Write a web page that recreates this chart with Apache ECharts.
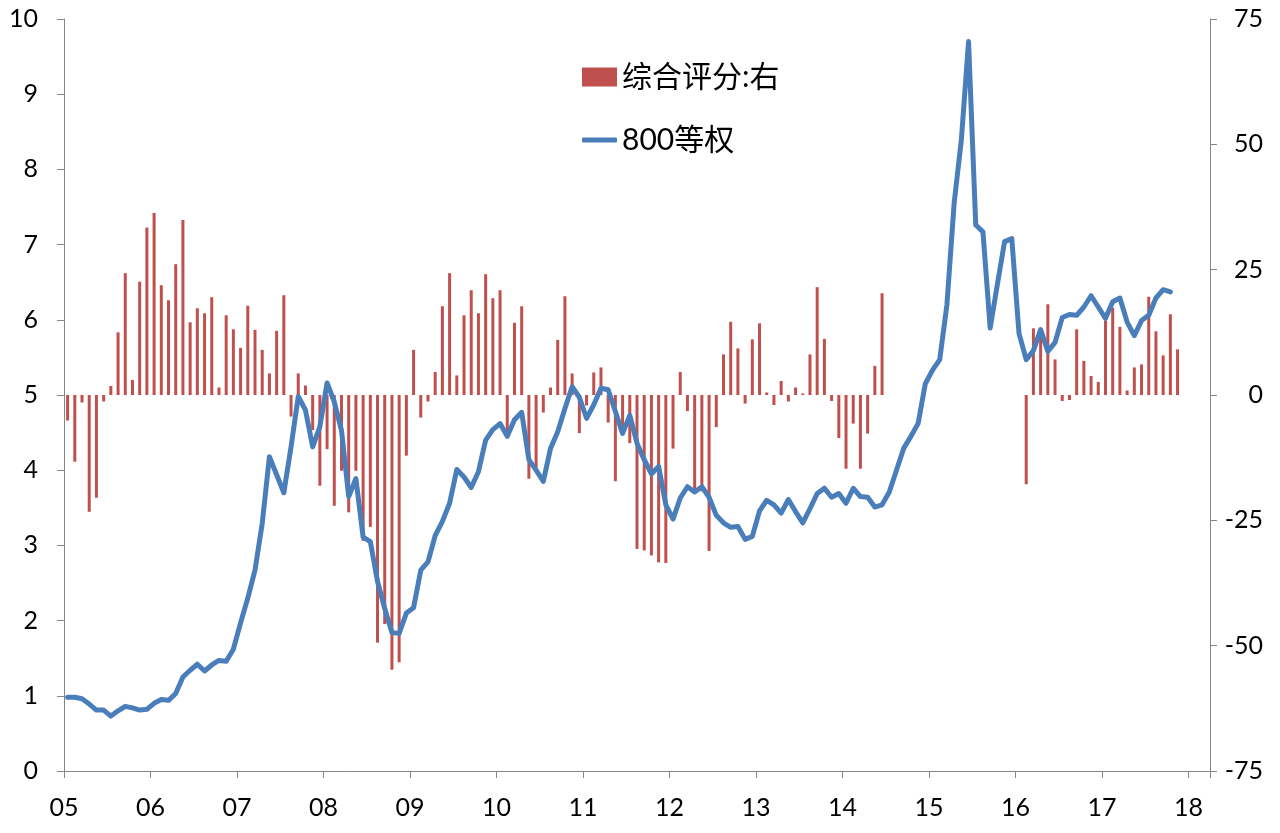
<!DOCTYPE html>
<html>
<head>
<meta charset="utf-8">
<script src="https://cdn.jsdelivr.net/npm/echarts@6/dist/echarts.min.js"></script>
<style>
html,body{margin:0;padding:0;background:#fff;}
#chart{width:1280px;height:833px;}
</style>
</head>
<body>
<div id="chart"></div>
<script>
// Year tick labels (one every 12 months, starting Jan 2005)
const yearLabels = ['05','06','07','08','09','10','11','12','13','14','15','16','17','18'];
const seriesNames = ['综合评分:右', '800等权'];

// 综合评分 (right axis), monthly from 2005-01; null = no value
const scoreRight = [
  -5.1, -13.3, -1.5, -23.3, -20.5, -1.3, 1.8, 12.5, 24.3, 3, 22.6, 33.4,
  36.3, 21.9, 18.9, 26.1, 34.9, 14.5, 17.3, 16.3, 19.5, 1.5, 15.9, 13.1,
  9.4, 17.8, 13, 9, 4.3, 12.8, 19.9, -4.3, 4.3, 1.9, -7, -18.1,
  -10.8, -22.1, -15.1, -23.4, -15.1, -29.1, -26.3, -49.4, -45.7, -54.8, -53.3, -12.1,
  9, -4.5, -1.3, 4.6, 17.7, 24.3, 3.9, 15.9, 20.9, 16.3, 24.1, 19.3,
  20.9, -8.2, 14.4, 17.7, -16.7, -15, -3.5, 1.5, 11, 19.7, 4.3, -7.6,
  -2.1, 4.5, 5.5, -5.5, -17.2, -8, -9.6, -30.7, -31, -32, -33.4, -33.5,
  -10.7, 4.6, -3.2, -19.7, -19.2, -31.1, -6.4, 8.1, 14.6, 9.3, -1.7, 11.1,
  14.3, 0.5, -2, 2.8, -1.3, 1.5, 0.3, 8.1, 21.5, 11.2, -1.2, -8.6,
  -14.7, -5.7, -14.7, -7.7, 5.8, 20.3, null, null, null, null, null, null,
  null, null, null, null, null, null, null, null, null, null, null, null,
  null, -17.8, 13.3, 12, 18.1, 7.1, -1.2, -1, 13.1, 6.8, 3.8, 2.6,
  14.8, 17.4, 13.6, 0.9, 5.5, 6.1, 19.6, 12.7, 7.9, 16.1, 9.1
];

// 800等权 (left axis), monthly from 2005-01
const index800 = [
  0.98, 0.98, 0.96, 0.89, 0.81, 0.81, 0.73, 0.80, 0.86, 0.84, 0.81, 0.82,
  0.90, 0.95, 0.94, 1.03, 1.25, 1.34, 1.42, 1.33, 1.41, 1.47, 1.46, 1.62,
  1.97, 2.30, 2.67, 3.29, 4.18, 3.94, 3.70, 4.31, 4.98, 4.80, 4.31, 4.58,
  5.16, 4.91, 4.53, 3.65, 3.89, 3.11, 3.05, 2.52, 2.16, 1.84, 1.83, 2.10,
  2.17, 2.67, 2.78, 3.13, 3.32, 3.56, 4.01, 3.91, 3.77, 3.98, 4.40, 4.54,
  4.62, 4.45, 4.67, 4.77, 4.14, 4.00, 3.85, 4.29, 4.51, 4.82, 5.11, 4.97,
  4.69, 4.87, 5.09, 5.07, 4.78, 4.49, 4.73, 4.36, 4.14, 3.95, 4.05, 3.54,
  3.35, 3.63, 3.78, 3.71, 3.78, 3.64, 3.40, 3.30, 3.24, 3.25, 3.08, 3.12,
  3.46, 3.60, 3.54, 3.43, 3.61, 3.45, 3.30, 3.49, 3.69, 3.76, 3.64, 3.69,
  3.56, 3.76, 3.65, 3.64, 3.51, 3.54, 3.71, 4.00, 4.29, 4.45, 4.62, 5.15,
  5.33, 5.47, 6.20, 7.55, 8.39, 9.70, 7.26, 7.17, 5.89, 6.47, 7.04, 7.08,
  5.82, 5.47, 5.59, 5.87, 5.58, 5.70, 6.03, 6.07, 6.06, 6.17, 6.32, 6.17,
  6.02, 6.24, 6.29, 5.97, 5.79, 5.99, 6.06, 6.29, 6.40, 6.37
];

const MONTHS_SHOWN = 159; // 2005-01 .. 2018-03

const barData = scoreRight.map((v, i) => [i + 0.5, v === null ? '-' : v]);
const lineData = index800.map((v, i) => [i + 0.5, v]);

const axisGrey = '#868686';
const barColor = '#C0504D';
const lineColor = '#4A7EBB';
const fontFam = 'Lato, "Noto Sans CJK SC", sans-serif';
const legendText = {fontSize: 30, color: '#000', fontFamily: fontFam};

const chart = echarts.init(document.getElementById('chart'), null, {renderer: 'canvas'});
chart.setOption({
  animation: false,
  backgroundColor: '#ffffff',
  grid: {left: 64, right: 70, top: 19, bottom: 62, containLabel: false},
  legend: [
    {
      left: 582,
      top: 62,
      padding: 0,
      itemWidth: 35,
      itemHeight: 19,
      itemGap: 6,
      textStyle: legendText,
      data: [{name: seriesNames[0], icon: 'rect'}]
    },
    {
      left: 582,
      top: 125,
      padding: 0,
      itemWidth: 35,
      itemHeight: 5,
      itemGap: 6,
      textStyle: legendText,
      data: [{name: seriesNames[1], icon: 'roundRect', itemStyle: {color: lineColor}}]
    }
  ],
  xAxis: {
    type: 'value',
    min: 0,
    max: MONTHS_SHOWN,
    interval: 12,
    axisLine: {show: true, lineStyle: {color: axisGrey, width: 1}},
    axisTick: {show: true, inside: false, length: 7, lineStyle: {color: axisGrey}},
    splitLine: {show: false},
    axisLabel: {
      margin: 24,
      fontSize: 25,
      color: '#000',
      fontFamily: fontFam,
      formatter: v => (v % 12 === 0 && yearLabels[v / 12] !== undefined) ? yearLabels[v / 12] : ''
    }
  },
  yAxis: [
    {
      type: 'value',
      min: 0,
      max: 10,
      interval: 1,
      position: 'left',
      axisLine: {show: true, lineStyle: {color: axisGrey, width: 1}},
      axisTick: {show: true, length: 7, lineStyle: {color: axisGrey}},
      splitLine: {show: false},
      axisLabel: {margin: 26, fontSize: 25, color: '#000', fontFamily: fontFam}
    },
    {
      type: 'value',
      min: -75,
      max: 75,
      interval: 25,
      position: 'right',
      axisLine: {show: true, lineStyle: {color: axisGrey, width: 1}},
      axisTick: {show: true, length: 7, lineStyle: {color: axisGrey}},
      splitLine: {show: false},
      axisLabel: {margin: 53, align: 'right', fontSize: 25, color: '#000', fontFamily: fontFam}
    }
  ],
  series: [
    {
      name: seriesNames[0],
      type: 'bar',
      yAxisIndex: 1,
      barWidth: 3,
      data: barData,
      itemStyle: {color: barColor},
      z: 2
    },
    {
      name: seriesNames[1],
      type: 'line',
      yAxisIndex: 0,
      data: lineData,
      symbol: 'none',
      smooth: false,
      lineStyle: {color: lineColor, width: 5, join: 'round', cap: 'round'},
      itemStyle: {color: lineColor},
      z: 3
    }
  ]
});
</script>
</body>
</html>
